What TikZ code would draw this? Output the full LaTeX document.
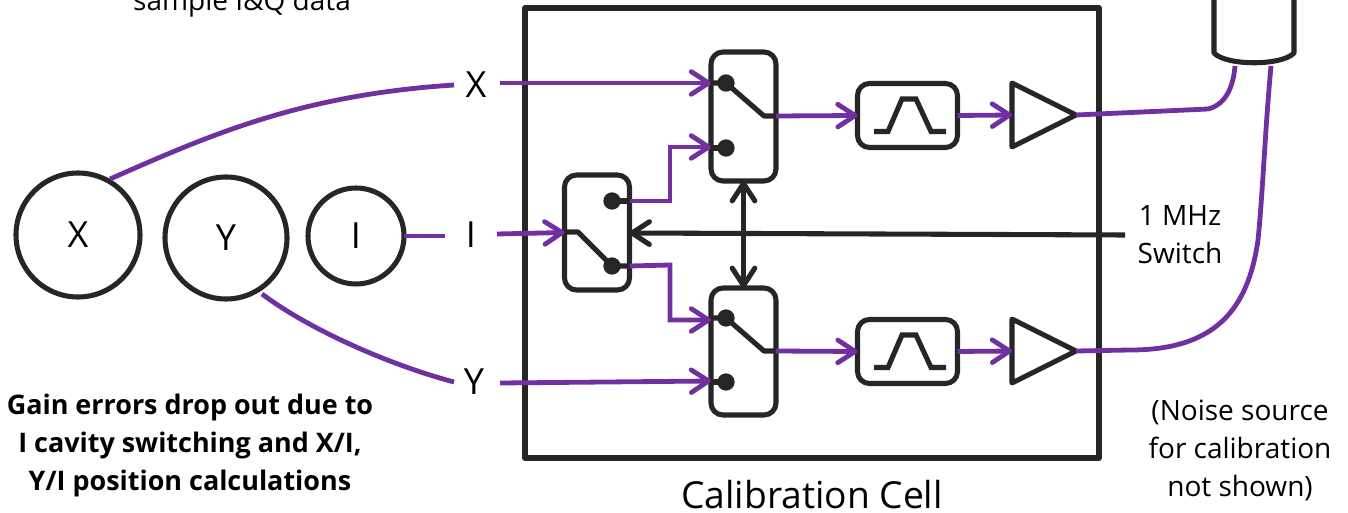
\documentclass[tikz,border=0pt]{standalone}
\usepackage{fontspec}
\setmainfont{Open Sans}
\usetikzlibrary{arrows.meta,shapes.geometric}
\definecolor{pur}{HTML}{7030A0}
\definecolor{ink}{HTML}{262626}
\tikzset{
  every node/.style={inner sep=0pt,outer sep=0pt},
  blk/.style={draw=ink,line width=3.8pt,line join=round},
  sw/.style={blk,rounded corners=9pt,minimum width=48.75pt,fill=white},
  filt/.style={blk,rounded corners=9pt,minimum width=75pt,minimum height=48pt,fill=white},
  amp/.style={blk,isosceles triangle,isosceles triangle stretches,shape border rotate=0,minimum width=48pt,minimum height=48pt,fill=white,anchor=west},
  ring/.style={blk,circle,fill=white,text=black},
  dot/.style={circle,fill=ink,minimum size=13pt},
  wire/.style={draw=pur,line width=3.6pt},
  parrow/.style={wire,-{Straight Barb[length=13pt,width=17pt,round,line width=3.6pt]}},
  barrow/.style={blk,-{Straight Barb[length=13pt,width=17pt,round,line width=3.8pt]}},
  darrow/.style={blk,{Straight Barb[length=13pt,width=17pt,round,line width=3.8pt]}-{Straight Barb[length=13pt,width=17pt,round,line width=3.8pt]}},
  lab/.style={font=\fontsize{27}{29}\selectfont,text=black},
  small/.style={font=\fontsize{21}{28.5}\selectfont,align=center,text=black},
  bold/.style={font=\fontsize{20.2}{28.5}\selectfont\bfseries,align=center,text=black},
  x=0.75pt,y=-0.75pt
}
\begin{document}
\begin{tikzpicture}
\useasboundingbox (0,0) rectangle (1348,513);
\clip (0,0) rectangle (1348,513);
% calibration cell
\node[blk,minimum width=430.5pt,minimum height=337.5pt,anchor=north west] (cell) at (525,8) {};
% circles
\node[ring,minimum size=93pt,lab] (cx) at (78,235) {X};
\node[ring,minimum size=91.5pt,lab] (cy) at (226,238) {Y};
\node[ring,minimum size=72pt,lab] (ci) at (356,236) {I};
% channel labels
\node[lab] (lx) at (476,85) {X};
\node[lab] (li) at (471,235) {I};
\node[lab] (ly) at (474,382) {Y};
% switches
\node[sw,minimum height=96.75pt] (s1) at (743.5,116.5) {};
\node[sw,minimum height=95.25pt] (s3) at (743.5,351.5) {};
\node[sw,minimum height=86.25pt] (s2) at (597,232.5) {};
\node[dot] (d1a) at (726,83) {};
\node[dot] (d1b) at (726,148) {};
\node[dot] (d3a) at (726,318) {};
\node[dot] (d3b) at (726,382) {};
\node[dot] (d2a) at (612,201) {};
\node[dot] (d2b) at (612,266) {};
\draw[blk] (711,83) -- (d1a.center) -- (764,116) -- (776,116);
\draw[blk] (711,148) -- (d1b.center);
\draw[blk] (711,318) -- (d3a.center) -- (764,351) -- (776,351);
\draw[blk] (711,382) -- (d3b.center);
\draw[blk] (564,232) -- (578,232) -- (d2b.center) -- (630,266);
\draw[blk] (d2a.center) -- (630,201);
% filters
\node[filt] (f1) at (907.5,115.5) {};
\node[filt] (f2) at (907.5,351.5) {};
\draw[blk,line join=miter] (874,131.5) -- (888,131.5) -- (902,99) -- (916,99) -- (931,131.5) -- (946,131.5);
\draw[blk,line join=miter] (874,367.5) -- (888,367.5) -- (902,335) -- (916,335) -- (931,367.5) -- (946,367.5);
% amps
\node[amp] (a1) at (1012,115) {};
\node[amp] (a2) at (1012,351) {};
% source
\coordinate (cylL) at (1214,-5);
\coordinate (cylR) at (1294,-5);
\draw[blk] (cylL) -- (1214,53) .. controls (1226,66) and (1282,66) .. (1294,53) -- (cylR);
\coordinate (in1) at (1235,66);
\coordinate (in2) at (1271,66);
% purple wires
\draw[wire] (110,179) .. controls (210,135) and (300,95) .. (lx.west -| 454,84);
\draw[wire] (ci.east) -- (445,236);
\draw[wire] (262,294) .. controls (310,330) and (390,365) .. (ly.west -| 454,382);
\draw[parrow] (500,83) -- (s1.west |- 0,83);
\draw[parrow] (500,383) -- (s3.west |- 0,381);
\draw[parrow] (497,234) -- (s2.west);
\draw[parrow] (s2.east |- d2a) -- (670,201) -- (670,147) -- (s1.west |- 0,147);
\draw[parrow] (s2.east |- d2b) -- (670,265) -- (670,320) -- (s3.west |- 0,320);
\draw[parrow] (s1.east |- 0,116) -- (f1.west);
\draw[parrow] (s3.east |- 0,351) -- (f2.west);
\draw[parrow] (f1.east) -- (a1.west);
\draw[parrow] (f2.east) -- (a2.west);
\draw[wire] (a1.east) -- (1208,109) .. controls (1224,105) and (1233,90) .. (in1);
\draw[wire] (a2.east) -- (1130,350) .. controls (1215,350) and (1248,310) .. (1258,240) .. controls (1263,190) and (1265,130) .. (in2);
% control
\node[small] (ctl) at (1180,235) {1 MHz\\Switch};
\draw[barrow] (ctl.west -| 1125,233) -- (s2.east |- 0,233);
\draw[darrow] (s1.south) -- (s3.north);
% text
\node[small] (top) at (242,3) {sample I\&Q data};
\node[bold] (note) at (190,446) {Gain errors drop out due to\\I cavity switching and X/I,\\Y/I position calculations};
\node[small] (noise) at (1240,450) {(Noise source\\for calibration\\not shown)};
\node[lab,font=\fontsize{27.9}{30}\selectfont] (title) at (812,495) {Calibration Cell};
\end{tikzpicture}
\end{document}
